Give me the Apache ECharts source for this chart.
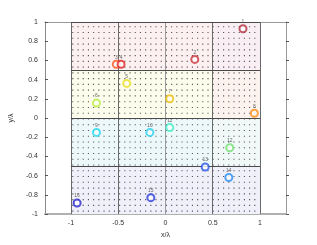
<!DOCTYPE html>
<html><head><meta charset="utf-8">
<script src="https://cdn.jsdelivr.net/npm/echarts@6/dist/echarts.min.js"></script>
<style>html,body{margin:0;padding:0;background:#fff}#c{width:317px;height:245px}</style>
</head><body><div id="c"></div>
<script>
// Data
const pointX = [0.82, 0.31, -0.52, -0.47, -0.41, -0.73, 0.045, 0.94, -0.73, -0.165, 0.045, 0.68, 0.42, 0.67, -0.155, -0.935];
const pointY = [0.93, 0.61, 0.56, 0.56, 0.36, 0.155, 0.2, 0.05, -0.15, -0.15, -0.1, -0.31, -0.51, -0.62, -0.83, -0.885];
const pointColors = ['#b03040','#c83038','#ff5a20','#e02424','#ece020','#b8ec40','#f0c010','#ff8c10','#20d8f0','#28d0f0','#40eec8','#70e070','#2858e8','#2a8cf4','#2838d8','#2424c8'];
const pointLabels = ['1','2','3','4','5','6','7','8','9','10','11','12','13','14','15','16'];
const dotXs = [-0.98,-0.925,-0.87,-0.815,-0.76,-0.705,-0.65,-0.595,-0.54,-0.485,-0.43,-0.375,-0.32,-0.265,-0.21,-0.155,-0.1,-0.045,0.01,0.065,0.12,0.175,0.23,0.285,0.34,0.395,0.45,0.505,0.56,0.615,0.67,0.725,0.78,0.835,0.89,0.945];
const dotYs = [-0.97,-0.91,-0.85,-0.79,-0.73,-0.67,-0.61,-0.55,-0.49,-0.43,-0.37,-0.31,-0.25,-0.19,-0.13,-0.07,-0.01,0.05,0.11,0.17,0.23,0.29,0.35,0.41,0.47,0.53,0.59,0.65,0.71,0.77,0.83,0.89,0.95];
const xTicks = [-1, -0.5, 0, 0.5, 1];
const cellRows = [[0.5,1],[0,0.5],[-0.5,0],[-1,-0.5]];
const cellColors = [['#fcf0f0','#f8eef3'],['#fcfdec','#fdf3ee'],['#edf8fa','#f0f9f7'],['#f0f0fa','#f0f0fa']];
const vLines = [-1,-0.5,0,0.5,1];
const hLines = [1,0.5,0,-0.5];

const dots = [];
dotXs.forEach(x => dotYs.forEach(y => dots.push([x,y])));
const areas = [];
cellRows.forEach((r,i) => {
  areas.push([{xAxis:-1,yAxis:r[0],itemStyle:{color:cellColors[i][0],opacity:1}},{xAxis:0.5,yAxis:r[1]}]);
  areas.push([{xAxis:0.5,yAxis:r[0],itemStyle:{color:cellColors[i][1],opacity:1}},{xAxis:1,yAxis:r[1]}]);
});
const lines = [];
vLines.forEach(v => lines.push([{coord:[v,-1],lineStyle:{color: v===0?'#9a9a9a':'#6a6a6a'}},{coord:[v,1]}]));
hLines.forEach(h => lines.push([{coord:[-1,h],lineStyle:{color:'#4a4a4a'}},{coord:[1,h]}]));

const font = 'Liberation Sans, Arial, sans-serif';
const chart = echarts.init(document.getElementById('c'), null, {renderer:'canvas'});
chart.setOption({
  animation:false,
  grid:{left:41,right:31,top:22,bottom:31},
  xAxis:[{type:'value',min:-1.275,max:1.275,
    name:'x/λ',nameLocation:'middle',nameGap:15,nameTextStyle:{fontFamily:font,fontSize:7,color:'#333'},
    axisLine:{show:true,onZero:false,lineStyle:{color:'#b0b0b0',width:2}},
    axisTick:{show:true,inside:true,length:3,customValues:xTicks,lineStyle:{color:'#555'}},
    axisLabel:{show:true,customValues:xTicks,fontFamily:font,fontSize:7,color:'#333',margin:6},
    splitLine:{show:false}},
   {type:'value',min:-1.275,max:1.275,position:'top',
    axisLine:{show:true,onZero:false,lineStyle:{color:'#9a9a9a'}},
    axisTick:{show:false},axisLabel:{show:false},splitLine:{show:false}}],
  yAxis:[{type:'value',min:-1,max:1,interval:0.2,
    name:'y/λ',nameLocation:'middle',nameGap:27,nameRotate:90,nameTextStyle:{fontFamily:font,fontSize:7,color:'#333'},
    axisLine:{show:true,onZero:false,lineStyle:{color:'#8a8a8a'}},
    axisTick:{show:true,inside:true,length:3,lineStyle:{color:'#555'}},
    axisLabel:{fontFamily:font,fontSize:7,color:'#333',margin:7,formatter:v=>String(Math.round(v*10)/10)},
    splitLine:{show:false}},
   {type:'value',min:-1,max:1,interval:0.2,position:'right',
    axisLine:{show:true,onZero:false,lineStyle:{color:'#9a9a9a'}},
    axisTick:{show:true,inside:false,length:3,lineStyle:{color:'#555'}},
    axisLabel:{show:false},splitLine:{show:false}}],
  series:[
    {type:'scatter',data:[],silent:true,
     markArea:{silent:true,data:areas},
     markLine:{silent:true,symbol:'none',label:{show:false},lineStyle:{type:'solid',width:1},data:lines}},
    {type:'scatter',data:dots,symbol:'rect',symbolSize:1.1,itemStyle:{color:'#2a2a2a'},silent:true},
    {type:'scatter',symbol:'emptyCircle',symbolSize:7,z:5,
     data:pointX.map((x,i)=>({value:[x,pointY[i]],itemStyle:{color:pointColors[i],borderColor:pointColors[i],borderWidth:1.4},
       label:{show:true,position:'top',distance:0,formatter:pointLabels[i],fontSize:5,color:'#444',fontFamily:font}}))}
  ]
});
</script></body></html>
